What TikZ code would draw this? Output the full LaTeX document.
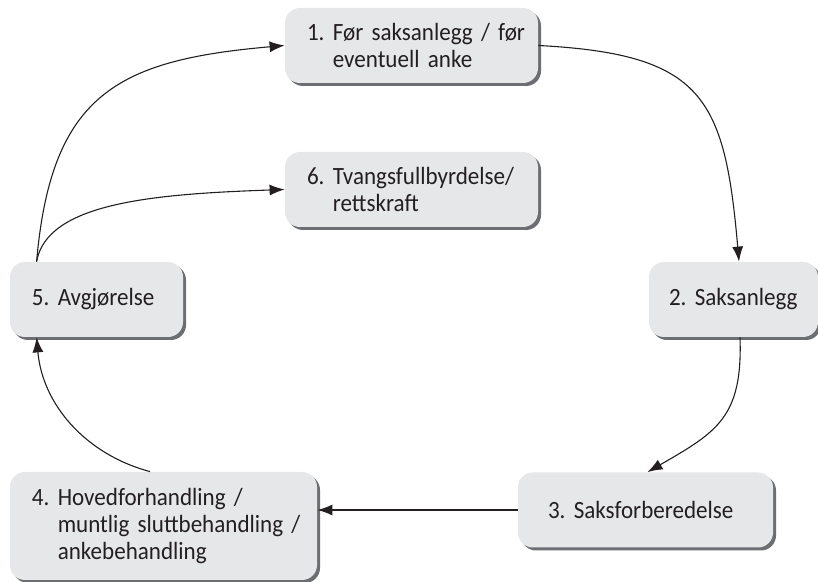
\documentclass[tikz,border=0pt]{standalone}
\usepackage{fontspec}
\setmainfont{Carlito}[FakeStretch=0.93]
\usetikzlibrary{arrows.meta,shadows,calc}
\definecolor{boks}{HTML}{E6E7E9}
\definecolor{skygge}{HTML}{6D6E71}
\definecolor{tekst}{HTML}{231F20}
\hbadness=10000 \hfuzz=50pt
\tikzset{
  fase/.style={rounded corners=7.5pt, fill=boks, text=tekst, align=left,
    inner xsep=11pt, inner ysep=0pt, minimum height=37.5pt,
    font=\fontsize{12.4}{13.3}\selectfont,
    drop shadow={shadow xshift=1.5pt, shadow yshift=-1.5pt, fill=skygge, opacity=1}},
  pil/.style={-{Latex[length=7.5pt,width=5.5pt]}, draw=tekst, line width=0.55pt}
}
\begin{document}
\begin{tikzpicture}[x=0.5pt,y=0.5pt]
    \useasboundingbox (0,0) rectangle (818,582);
    \node[fase, text width=104.5pt] (B1) at (411.5,536.5) {\mbox{1.~Før saksanlegg / før}\\\mbox{\phantom{1.~}eventuell anke}};
    \node[fase, text width=64.5pt, inner xsep=10pt] (B2) at (733.5,282.5) {2.~Saksanlegg};
    \node[fase, text width=97.5pt, inner xsep=15pt] (B3) at (645.5,72) {3.~Saksforberedelse};
    \node[fase, text width=131.5pt, minimum height=54pt] (B4) at (163.5,56) {\mbox{4.~Hovedforhandling /}\\\mbox{\phantom{4.~}muntlig sluttbehandling /}\\\mbox{\phantom{4.~}ankebehandling}};
    \node[fase, text width=64.5pt] (B5) at (96.5,282.5) {5.~Avgjørelse};
    \node[fase, text width=104.5pt] (B6) at (411.5,392.5) {6.~Tvangsfullbyrdelse/\\\phantom{6.~}rettskraft};
    \draw[pil] ($(B5.north west)+(27,0)$) .. controls +(85:168) and +(185:168) .. (B1.west);
    \draw[pil] ($(B5.north west)+(27,0)$) .. controls +(80:60) and +(182:130) .. (B6.west);
    \draw[pil] (B1.east) .. controls +(-3:165) and +(95:165) .. ([xshift=2.75pt]B2.north);
    \draw[pil] ([xshift=3.25pt]B2.south) .. controls +(-88:80) and +(30:80) .. ([xshift=1pt]B3.north);
    \draw[pil] (B3.west) -- (B3.west -| B4.east);
    \draw[pil] ([xshift=-6.75pt]B4.north) .. controls +(165:67) and +(-85:67) .. ($(B5.south west)+(27,0)$);
  \end{tikzpicture}
\end{document}
